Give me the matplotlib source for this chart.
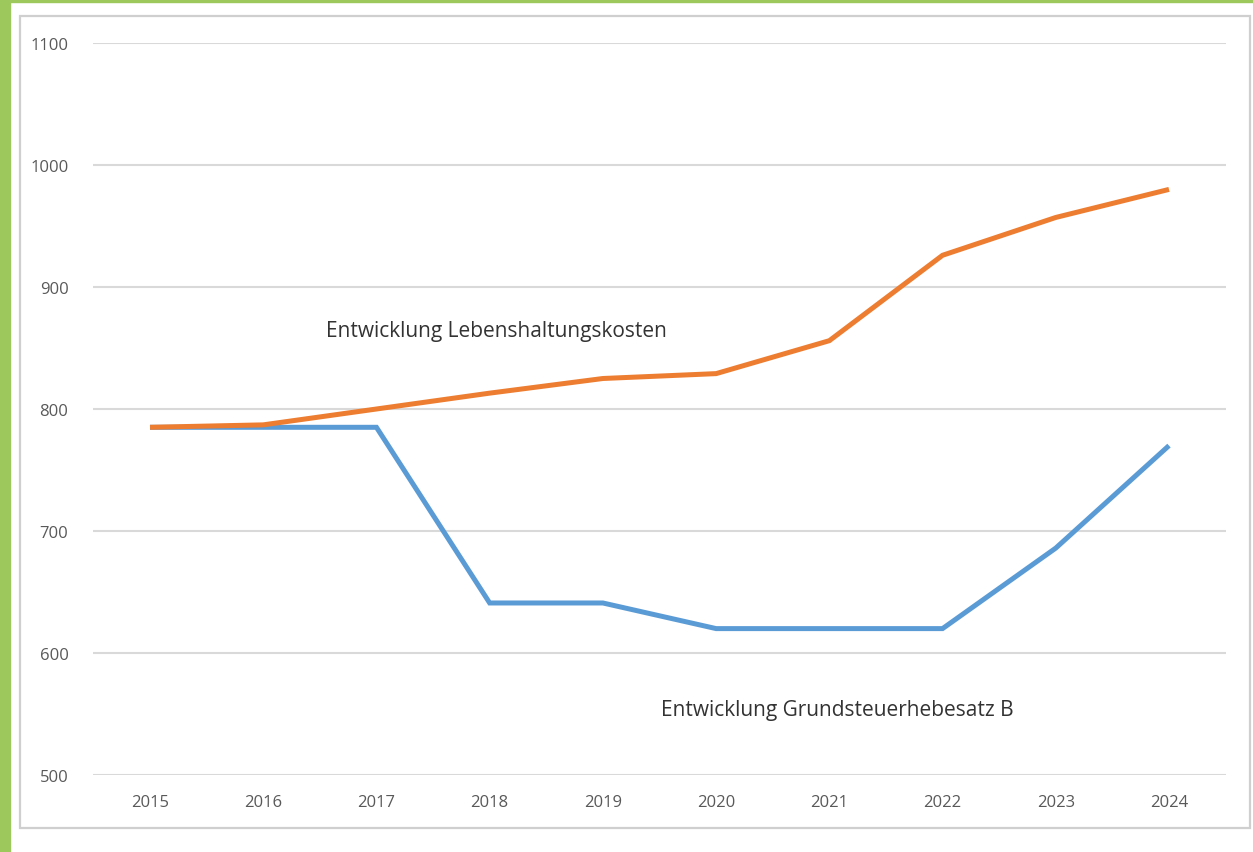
import matplotlib.pyplot as plt
from matplotlib.patches import Rectangle

# Werte
years = [2015, 2016, 2017, 2018, 2019, 2020, 2021, 2022, 2023, 2024]
lebenshaltung = [785, 787, 800, 813, 825, 829, 856, 926, 957, 980]
grundsteuer = [785, 785, 785, 641, 641, 620, 620, 620, 686, 770]
y_ticks = [500, 600, 700, 800, 900, 1000, 1100]

W, H = 1253, 853
plt.rcParams['font.family'] = ['Open Sans', 'DejaVu Sans']

fig = plt.figure(figsize=(W / 100, H / 100), dpi=100)
fig.patch.set_facecolor('white')

# green frame at left / top edge
green = '#9dc85b'
fig.patches.append(Rectangle((0, 0), 10 / W, 1, transform=fig.transFigure,
                             color=green, zorder=0))
fig.patches.append(Rectangle((0, 1 - 3 / H), 1, 3 / H, transform=fig.transFigure,
                             color=green, zorder=0))
# gray chart border
fig.patches.append(Rectangle((20 / W, 1 - 829 / H), 1230 / W, 812 / H,
                             transform=fig.transFigure, fill=False,
                             edgecolor='#cfcfcf', linewidth=1.6, zorder=1))

ax = fig.add_axes([93.4 / W, 1 - 776 / H, (1225.6 - 93.4) / W, 732 / H])
ax.set_facecolor('none')

ax.plot(years, grundsteuer, color='#5b9bd5', linewidth=3.6,
        solid_capstyle='butt', solid_joinstyle='miter', zorder=3)
ax.plot(years, lebenshaltung, color='#ed7d31', linewidth=3.6,
        solid_capstyle='butt', solid_joinstyle='miter', zorder=4)

ax.set_xlim(2014.5, 2024.5)
ax.set_ylim(500, 1100)
ax.set_xticks(years)
ax.set_yticks(y_ticks)
ax.grid(axis='y', color='#d9d9d9', linewidth=1.5)
ax.set_axisbelow(True)
for s in ax.spines.values():
    s.set_visible(False)
ax.tick_params(length=0, labelsize=12, labelcolor='#595959')
ax.tick_params(axis='y', pad=18)
ax.tick_params(axis='x', pad=14)

ax.text(2016.555, 864, 'Entwicklung Lebenshaltungskosten', fontsize=15,
        color='#333333', va='center', ha='left')
ax.text(2019.51, 554, 'Entwicklung Grundsteuerhebesatz B', fontsize=15,
        color='#333333', va='center', ha='left')

fig.savefig('out.png', dpi=100)
